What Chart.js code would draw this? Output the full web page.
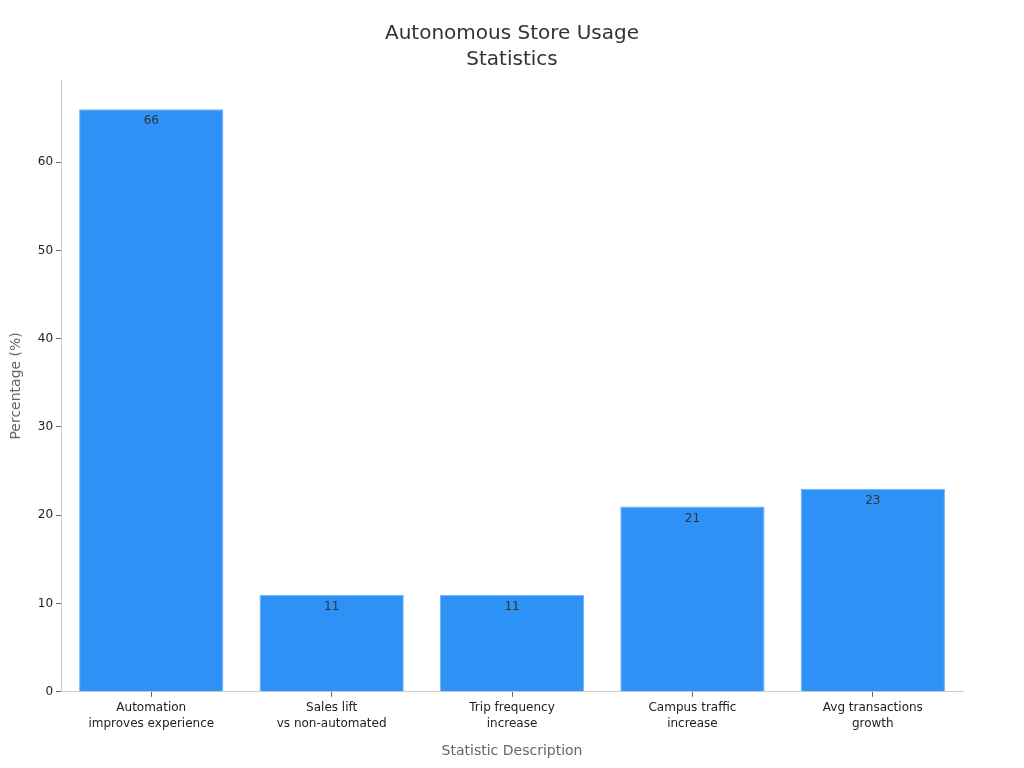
<!DOCTYPE html>
<html>
<head>
<meta charset="utf-8">
<script src="https://cdn.jsdelivr.net/npm/chart.js@4"></script>
<style>
  html, body { margin: 0; padding: 0; background: #fff; }
  #wrap { width: 1024px; height: 768px; }
</style>
</head>
<body>
<div id="wrap"><canvas id="grafico" width="1024" height="768"></canvas></div>
<script>
// dados do gráfico
var titulo = ['Autonomous Store Usage', 'Statistics'];
var categorias = [
  ['Automation', 'improves experience'],
  ['Sales lift', 'vs non-automated'],
  ['Trip frequency', 'increase'],
  ['Campus traffic', 'increase'],
  ['Avg transactions', 'growth']
];
var valores = [66, 11, 11, 21, 23];
var ticksY = [0, 10, 20, 30, 40, 50, 60];

Chart.defaults.font.family = 'DejaVu Sans';

// título centrado na página inteira
var tituloPlugin = {
  id: 'tituloPlugin',
  afterDraw: function(chart){
    var ctx = chart.ctx;
    ctx.save();
    ctx.font = '20px DejaVu Sans';
    ctx.fillStyle = '#333';
    ctx.textAlign = 'center';
    ctx.textBaseline = 'middle';
    titulo.forEach(function(linha, i){
      ctx.fillText(linha, chart.width / 2, 34 + i * 26);
    });
    ctx.restore();
  }
};

// rótulos com o valor dentro do topo da barra
var rotulos = {
  id: 'rotulos',
  afterDatasetsDraw: function(chart){
    var ctx = chart.ctx;
    var meta = chart.getDatasetMeta(0);
    ctx.save();
    ctx.font = '12px DejaVu Sans';
    ctx.fillStyle = '#333';
    ctx.textAlign = 'center';
    ctx.textBaseline = 'middle';
    meta.data.forEach(function(bar, i){
      ctx.fillText(valores[i], bar.x, bar.y + 12);
    });
    ctx.restore();
  }
};

new Chart(document.getElementById('grafico'), {
  type: 'bar',
  data: {
    labels: categorias,
    datasets: [{
      label: 'Percentage',
      data: valores,
      backgroundColor: '#2E91F6',
      borderColor: '#6AB2F8',
      borderWidth: 1,
      barPercentage: 0.8,
      categoryPercentage: 1.0
    }]
  },
  options: {
    responsive: false,
    animation: false,
    layout: { padding: { left: 4, right: 61, top: 80, bottom: 8 } },
    plugins: {
      legend: { display: false },
      tooltip: { enabled: false },
      title: { display: false }
    },
    scales: {
      x: {
        grid: { display: true, offset: false, drawOnChartArea: false, tickLength: 5, color: '#666' },
        border: { color: '#ccc' },
        ticks: { color: '#222', font: { size: 12, lineHeight: 1.35 }, padding: 3, maxRotation: 0 },
        title: { display: true, text: 'Statistic Description', color: '#666', font: { size: 14 }, padding: { top: 8, bottom: 0 } }
      },
      y: {
        min: 0,
        max: 69.3,
        grid: { display: true, drawOnChartArea: false, tickLength: 5, color: '#666' },
        border: { color: '#ccc' },
        ticks: { color: '#222', font: { size: 12 }, padding: 3 },
        afterBuildTicks: function(axis){
          axis.ticks = ticksY.map(function(v){ return { value: v }; });
        },
        title: { display: true, text: 'Percentage (%)', color: '#666', font: { size: 14 }, padding: { bottom: 10 } }
      }
    }
  },
  plugins: [rotulos, tituloPlugin]
});
</script>
</body>
</html>
